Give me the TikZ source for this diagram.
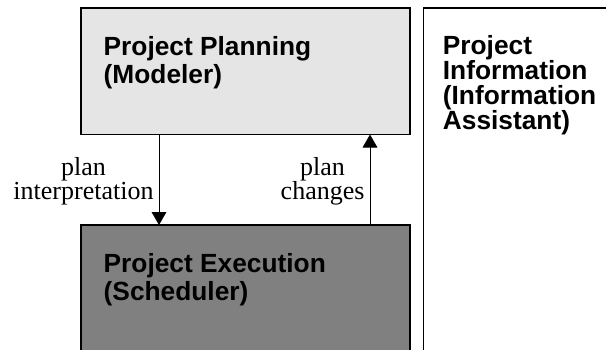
\documentclass[tikz,border=0pt]{standalone}
\usepackage{fontspec}
\setmainfont{Liberation Serif}
\setsansfont{Liberation Sans}
\usetikzlibrary{arrows.meta}
\definecolor{lightbox}{RGB}{229,229,229}
\definecolor{darkbox}{RGB}{128,128,128}
\tikzset{
  box/.style={draw=black, line width=1.2pt, anchor=north west, inner sep=0pt, outer sep=0pt},
  title/.style={anchor=base west, inner sep=0pt, font=\sffamily\bfseries\fontsize{26.3}{28}\selectfont},
  lbl/.style={anchor=base, inner sep=0pt, font=\rmfamily\fontsize{26}{28}\selectfont},
  arr/.style={line width=1pt, -{Triangle[width=14.7pt,length=13pt]}}
}
\begin{document}
\begin{tikzpicture}[x=1pt,y=-1pt]
\useasboundingbox (0,0) rectangle (606,349);
\clip (0,0) rectangle (606,349);
% boxes
\node[box, fill=lightbox, minimum width=329pt, minimum height=126.5pt] (plan) at (81,8) {};
\node[box, fill=darkbox, minimum width=329pt, minimum height=150pt] (exec) at (81,225) {};
\node[box, fill=white, minimum width=220pt, minimum height=380pt] (info) at (423.5,8) {};
% titles
\node[title] (plan1) at (103.5,55.5) {Project Planning};
\node[title] (plan2) at (103.5,83.5) {(Modeler)};
\node[title] (exec1) at (103.5,272.5) {Project Execution};
\node[title] (exec2) at (103.5,300.5) {(Scheduler)};
\node[title] (info1) at (442.7,54.8) {Project};
\node[title] (info2) at (442.7,79.8) {Information};
\node[title] (info3) at (442.7,104.8) {(Information};
\node[title] (info4) at (442.7,129.8) {Assistant)};
% arrows
\draw[arr] ([xshift=78pt]plan.south west) -- ([xshift=78pt]exec.north west);
\draw[arr] ([xshift=289pt]exec.north west) -- ([xshift=289pt]plan.south west);
% labels
\node[lbl] (l1a) at (83.5,175) {plan};
\node[lbl] (l1b) at (83.5,199.5) {interpretation};
\node[lbl] (l2a) at (322.6,175) {plan};
\node[lbl] (l2b) at (322.6,199.5) {changes};
\end{tikzpicture}
\end{document}
